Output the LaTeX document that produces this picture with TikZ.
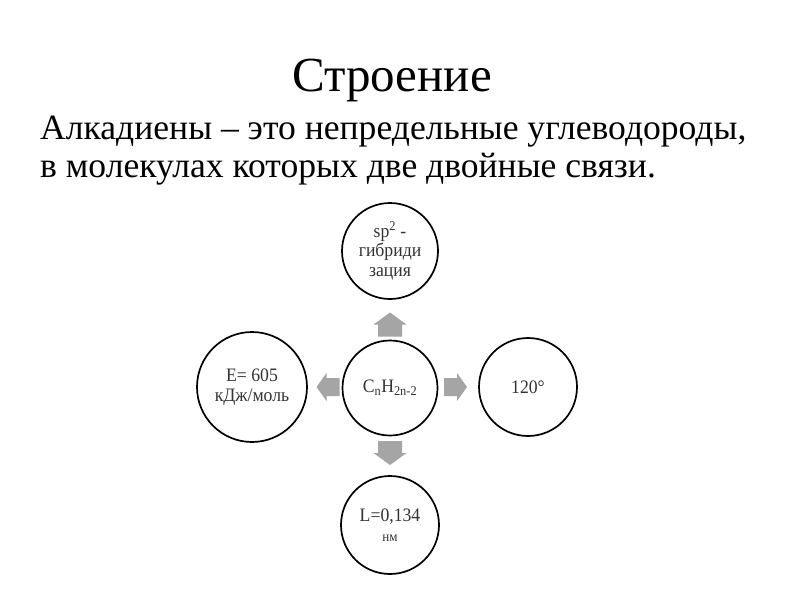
\documentclass[tikz,border=0pt]{standalone}
\usepackage{fontspec}
\setmainfont{Liberation Serif}
\newfontfamily\circfont[FakeStretch=0.93]{Liberation Serif}
\definecolor{arrowgray}{HTML}{A5A5A5}
\definecolor{txtgray}{HTML}{333333}
\tikzset{
  circ/.style={circle, draw=black, line width=1.7pt, fill=white, align=center,
    inner sep=0pt, text=txtgray, font=\circfont\fontsize{19}{19.5}\selectfont},
  harrow/.pic={\fill[arrowgray] (-11.5,-9) -- (1.5,-9) -- (1.5,-14) -- (11.5,0) -- (1.5,14) -- (1.5,9) -- (-11.5,9) -- cycle;},
  varrow/.pic={\fill[arrowgray] (-12,12) -- (-12,0) -- (-16.5,0) -- (0,-12) -- (16.5,0) -- (12,0) -- (12,12) -- cycle;},
  titletext/.style={font=\fontsize{49}{52}\selectfont, inner sep=0pt},
  bodytext/.style={font=\fontsize{35.6}{40}\selectfont, inner sep=0pt, anchor=base west}
}
\begin{document}
\begin{tikzpicture}[x=1pt,y=-1pt]
\useasboundingbox[fill=white] (0,0) rectangle (800,600);
\node[titletext, anchor=base] (title) at (392,91) {Строение};
\node[bodytext] (l1) at (40,139) {Алкадиены – это непредельные углеводороды,};
\node[bodytext] (l2) at (40,177) {в молекулах которых две двойные связи.};

\node[circ, minimum size=95] (c) at (390,388) {C\textsubscript{n}H\textsubscript{2n-2}};
\node[circ, minimum size=96] (t) at (390,251) {sp\textsuperscript{2} -\\гибриди\\зация};
\node[circ, minimum size=110] (l) at (252,387) {E= 605\\кДж/моль};
\node[circ, minimum size=98] (r) at (528,387) {120°};
\node[circ, minimum size=98] (b) at (390,525) {L=0,134\\[1pt]{\fontsize{14}{15}\selectfont нм}};

\coordinate (au) at (390,324.5);
\coordinate (ad) at (390,453);
\coordinate (ar) at (455.5,387);
\coordinate (al) at (328,387);
\pic at (au) {varrow};
\pic[yscale=-1] at (ad) {varrow};
\pic at (ar) {harrow};
\pic[xscale=-1] at (al) {harrow};
\end{tikzpicture}
\end{document}
